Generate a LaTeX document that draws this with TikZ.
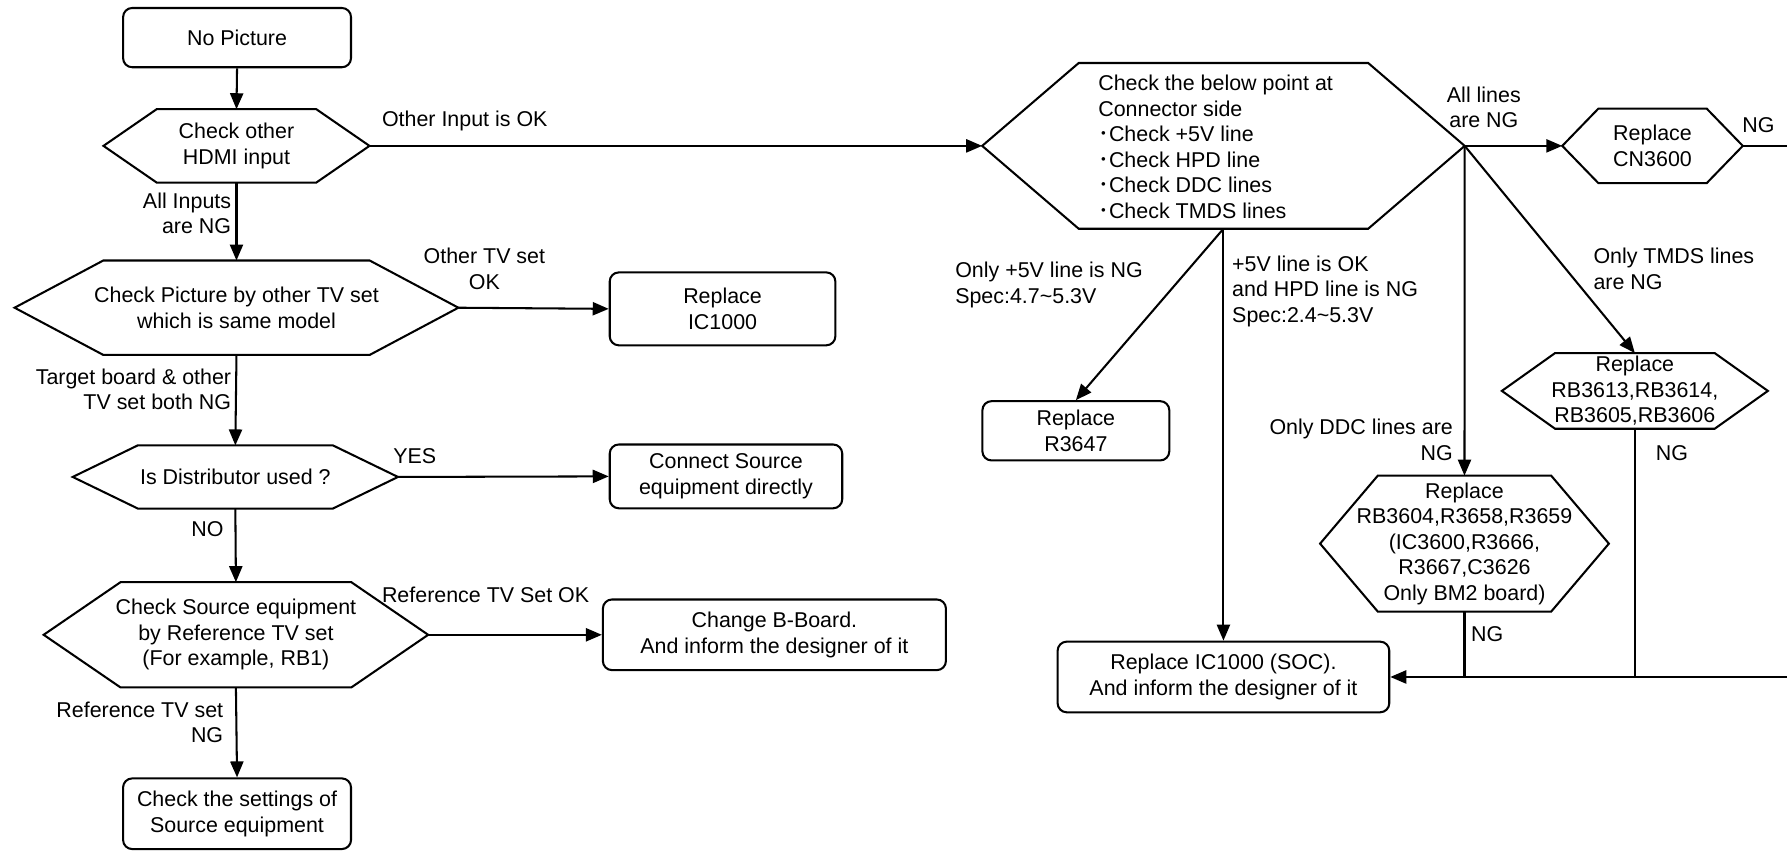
\documentclass[tikz,border=0pt]{standalone}
\usepackage{fontspec}
\setmainfont{Liberation Sans}
\newfontfamily\cjk{Noto Sans CJK JP}
\usetikzlibrary{arrows.meta,calc}
\newcommand\fs{\fontsize{18.8}{22.4}\selectfont}
\newcommand\bul{{\cjk ･}}
\newcommand\hexpath[1]{\draw[ln] (#1.west) -- ($(#1.north west)!0.2!(#1.north east)$) -- ($(#1.north west)!0.8!(#1.north east)$) -- (#1.east) -- ($(#1.south west)!0.8!(#1.south east)$) -- ($(#1.south west)!0.2!(#1.south east)$) -- cycle;}
\tikzset{
  ln/.style={line width=1.8pt},
  arr/.style={ln,-{Triangle[length=14pt,width=11.5pt]}},
  rbox/.style={draw, ln, rounded corners=8pt, align=center, inner sep=0pt, font=\fs},
  hexn/.style 2 args={minimum width=#1, minimum height=#2, inner sep=0pt, align=center, font=\fs},
  lbl/.style={inner sep=0pt, font=\fs},
}
\begin{document}
\begin{tikzpicture}[x=1pt,y=-1pt]
\useasboundingbox (0,0) rectangle (1568,747);
% left column
\node[rbox, minimum width=200pt, minimum height=52pt] (np) at (208,33) {No Picture};
\node[hexn={233pt}{64pt}] (h1) at (207.5,128) {Check other\\HDMI input};
\node[hexn={389pt}{82.5pt}] (h2) at (207.5,270) {Check Picture by other TV set\\which is same model};
\node[rbox, minimum width=198pt, minimum height=64pt] (ic) at (634,271) {Replace\\IC1000};
\node[hexn={285pt}{55pt}] (h3) at (206.5,418.5) {Is Distributor used ?};
\node[rbox, minimum width=204pt, minimum height=56pt] (conn) at (637,418) {Connect Source\\equipment directly};
\node[hexn={337pt}{92pt}] (h4) at (207,557) {Check Source equipment\\by Reference TV set\\(For example, RB1)};
\node[rbox, minimum width=301pt, minimum height=62pt] (cb) at (679.5,557) {Change B-Board.\\And inform the designer of it};
\node[rbox, minimum width=200pt, minimum height=62pt] (cs) at (208,714) {Check the settings of\\Source equipment};
% right part
\node[hexn={423pt}{145pt}] (big) at (1073.5,128) {};
\node[lbl, anchor=west, align=left] (bigt) at (963.5,129) {Check the below point at\\Connector side\\\bul Check +5V line\\\bul Check HPD line\\\bul Check DDC lines\\\bul Check TMDS lines};
\node[hexn={158pt}{65pt}] (cn) at (1450,128) {Replace\\CN3600};
\node[hexn={233pt}{66pt}] (tm) at (1434.5,343) {Replace\\RB3613,RB3614,\\RB3605,RB3606};
\node[hexn={253pt}{119pt}] (ddc) at (1285,477) {Replace\\RB3604,R3658,R3659\\(IC3600,R3666,\\R3667,C3626\\Only BM2 board)};
\node[rbox, minimum width=164pt, minimum height=52pt] (r36) at (944,378) {Replace\\R3647};
\node[rbox, minimum width=291pt, minimum height=62pt] (soc) at (1073.5,594) {Replace IC1000 (SOC).\\And inform the designer of it};
\foreach \h in {h1,h2,h3,h4,big,cn,tm,ddc}{\hexpath{\h}}
\coordinate (cnout) at (1568,128);
\coordinate (socin) at (1568,594);
% connectors
\draw[arr] (np.south) -- (h1.north);
\draw[arr] (h1.east) -- (big.west);
\draw[arr] (h1.south) -- (h2.north);
\draw[arr] (h2.east) -- (ic.west);
\draw[arr] (h2.south) -- (h3.north);
\draw[arr] (h3.east) -- (conn.west);
\draw[arr] (h3.south) -- (h4.north);
\draw[arr] (h4.east) -- (cb.west);
\draw[arr] (h4.south) -- (cs.north);
\draw[arr] (big.east) -- (cn.west);
\draw[arr] (big.east) -- (ddc.north);
\draw[arr] (big.east) -- (tm.north);
\draw[arr] (big.south) -- (r36.north);
\draw[arr] (big.south) -- (soc.north);
\draw[ln] (cn.east) -- (cnout);
\draw[arr] (socin) -- (soc.east);
\draw[ln] (tm.south) -- (tm.south |- soc.east);
\draw[ln] (ddc.south) -- (ddc.south |- soc.east);
% labels
\node[lbl, anchor=west] (l1) at (335,106) {Other Input is OK};
\node[lbl, anchor=east, align=right] (l2) at (203,187) {All Inputs\\are NG};
\node[lbl, align=center] (l3) at (425,236) {Other TV set\\OK};
\node[lbl, anchor=east, align=right] (l4) at (203,341.5) {Target board \& other\\TV set both NG};
\node[lbl] (l5) at (364,400) {YES};
\node[lbl] (l6) at (182,464) {NO};
\node[lbl, anchor=west] (l7) at (335,522) {Reference TV Set OK};
\node[lbl, anchor=east, align=right] (l8) at (196,634) {Reference TV set\\NG};
\node[lbl, align=center] (l9) at (1302,94) {All lines\\are NG};
\node[lbl] (l10) at (1543,110) {NG};
\node[lbl, anchor=west, align=left] (l11) at (838,250) {Only +5V line is NG\\Spec:4.7\string~5.3V};
\node[lbl, anchor=west, align=left] (l12) at (1081,255.5) {+5V line is OK\\and HPD line is NG\\Spec:2.4\string~5.3V};
\node[lbl, anchor=east, align=right] (l13) at (1275,386) {Only DDC lines are\\NG};
\node[lbl, anchor=west, align=left] (l14) at (1398,236) {Only TMDS lines\\are NG};
\node[lbl] (l15) at (1467,397.5) {NG};
\node[lbl] (l16) at (1305,556.5) {NG};
\end{tikzpicture}
\end{document}
